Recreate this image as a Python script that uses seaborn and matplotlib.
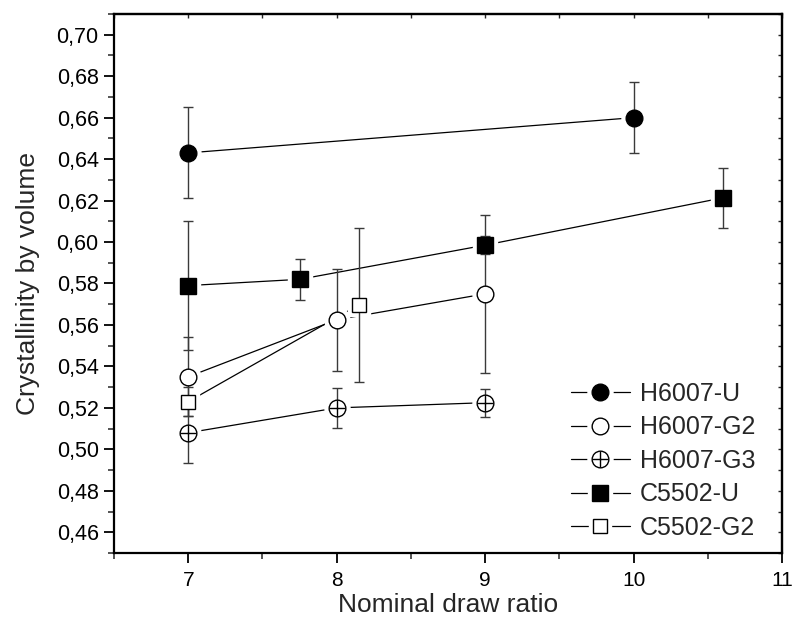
import numpy as np
import pandas as pd
import seaborn as sns
import matplotlib
matplotlib.use("Agg")
import matplotlib.pyplot as plt
from matplotlib.lines import Line2D
from matplotlib.legend_handler import HandlerTuple
from matplotlib.ticker import MultipleLocator, FuncFormatter

# ---- data ----
series_names = ["H6007-U", "H6007-G2", "H6007-G3", "C5502-U", "C5502-G2"]

h_u_x = [7, 10]
h_u_y = [0.643, 0.660]
h_u_err = [0.022, 0.017]

h_g2_x = [7, 8, 9]
h_g2_y = [0.535, 0.5625, 0.575]
h_g2_err = [0.019, 0.0245, 0.038]

h_g3_x = [7, 8, 9]
h_g3_y = [0.508, 0.520, 0.5225]
h_g3_err = [0.0145, 0.0095, 0.0068]

c_u_x = [7, 7.75, 9, 10.6]
c_u_y = [0.579, 0.582, 0.5985, 0.6213]
c_u_err = [0.031, 0.0099, 0.0043, 0.0145]

c_g2_x = [7, 8.15]
c_g2_y = [0.523, 0.5697]
c_g2_err = [0.007, 0.037]

xs = [h_u_x, h_g2_x, h_g3_x, c_u_x, c_g2_x]
ys = [h_u_y, h_g2_y, h_g3_y, c_u_y, c_g2_y]
errs = [h_u_err, h_g2_err, h_g3_err, c_u_err, c_g2_err]

# styles
styles = {
    "H6007-U": dict(marker="o", ms=12, mfc="black"),
    "H6007-G2": dict(marker="o", ms=12, mfc="white"),
    "H6007-G3": dict(marker="o", ms=12, mfc="white", plus=True),
    "C5502-U": dict(marker="s", ms=11, mfc="black"),
    "C5502-G2": dict(marker="s", ms=10.5, mfc="white"),
}

sns.set_style("ticks")
plt.rcParams["font.family"] = ["Liberation Sans", "DejaVu Sans"]

fig = plt.figure(figsize=(7.95, 6.39), dpi=100)
ax = fig.add_axes([0.1434, 0.1346, 0.8403, 0.8435])

frames = []
for name, x, y, e in zip(series_names, xs, ys, errs):
    frames.append(pd.DataFrame({"ratio": x, "cryst": y, "err": e, "series": name}))
df = pd.concat(frames, ignore_index=True)

handles = []
for name in series_names:
    d = df[df["series"] == name]
    st = styles[name]
    # connecting line
    sns.lineplot(data=d, x="ratio", y="cryst", ax=ax, color="black", lw=0.9,
                 estimator=None, sort=False, zorder=1, legend=False)
    # white halo to make gaps at markers
    ax.plot(d["ratio"], d["cryst"], ls="none", marker=st["marker"],
            ms=st["ms"] + 6, mfc="white", mec="white", zorder=2)
    # error bars
    ax.errorbar(d["ratio"], d["cryst"], yerr=d["err"], fmt="none",
                ecolor="#3a3a3a", elinewidth=1.0, capsize=3.6, capthick=1.0,
                zorder=3)
    ax.plot(d["ratio"], d["cryst"], ls="none", marker=st["marker"],
            ms=st["ms"], mfc=st["mfc"], mec="black", mew=1.0, zorder=4)
    hl = Line2D([], [], color="black", lw=0.9)
    hh = Line2D([], [], ls="none", marker=st["marker"], ms=st["ms"] + 6,
                mfc="white", mec="white")
    hm = Line2D([], [], ls="none", marker=st["marker"], ms=st["ms"],
                mfc=st["mfc"], mec="black", mew=1.0)
    parts = [hl, hh, hm]
    if st.get("plus"):
        ax.plot(d["ratio"], d["cryst"], ls="none", marker="+", ms=st["ms"],
                mec="black", mew=1.0, zorder=5)
        parts.append(Line2D([], [], ls="none", marker="+", ms=st["ms"],
                            mec="black", mew=1.0))
    handles.append(tuple(parts))

ax.set_xlim(6.5, 11)
ax.set_ylim(0.45, 0.71)
ax.xaxis.set_major_locator(MultipleLocator(1))
ax.xaxis.set_minor_locator(MultipleLocator(0.5))
ax.yaxis.set_major_locator(MultipleLocator(0.02))
ax.yaxis.set_minor_locator(MultipleLocator(0.01))
ax.yaxis.set_major_formatter(FuncFormatter(lambda v, p: f"{v:.2f}".replace(".", ",")))
ax.set_yticks(np.arange(0.46, 0.7001, 0.02))

for s in ax.spines.values():
    s.set_visible(True)
    s.set_linewidth(1.6)
    s.set_color("black")

ax.tick_params(axis="both", which="major", direction="out", length=7, width=1.3,
               labelsize=15.5, colors="black", pad=4)
ax.tick_params(axis="x", which="major", pad=6, labelsize=15)
ax.tick_params(axis="both", which="minor", direction="out", length=4, width=1.1)
ax.tick_params(top=False, right=False, which="both")

# inward ticks on top and right
sec_y = ax.secondary_yaxis("right")
sec_y.yaxis.set_major_locator(MultipleLocator(0.01))
sec_y.tick_params(direction="in", length=3, width=1.0, labelright=False)
sec_y.spines["right"].set_linewidth(1.6)
sec_x = ax.secondary_xaxis("top")
sec_x.xaxis.set_major_locator(MultipleLocator(0.5))
sec_x.tick_params(direction="in", length=3, width=1.0, labeltop=False)
sec_x.spines["top"].set_linewidth(1.6)

ax.set_xlabel("Nominal draw ratio", fontsize=19, labelpad=2)
ax.set_ylabel("Crystallinity by volume", fontsize=19, labelpad=12)

ax.legend(handles, series_names, handler_map={tuple: HandlerTuple(ndivide=1, pad=0)},
          loc="lower right", bbox_to_anchor=(0.975, 0.006), frameon=False,
          fontsize=18, handlelength=2.36, handletextpad=0.4, labelspacing=0.38,
          borderaxespad=0)

fig.savefig("out.png", dpi=100)
